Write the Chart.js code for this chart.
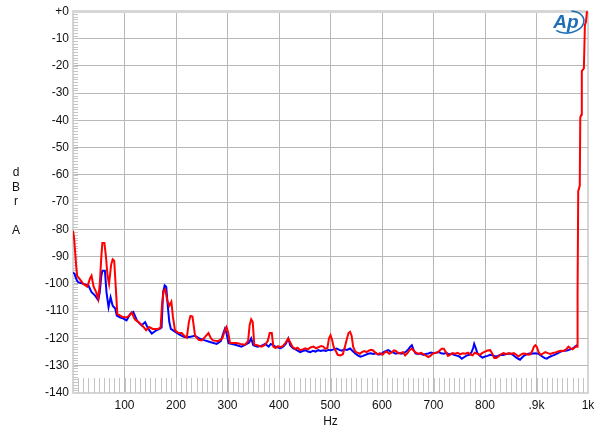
<!DOCTYPE html>
<html>
<head>
<meta charset="utf-8">
<script src="https://cdn.jsdelivr.net/npm/chart.js@4.4.1/dist/chart.umd.min.js"></script>
<style>
  html, body { margin: 0; padding: 0; background: #fff; }
  #wrap { width: 600px; height: 438px; position: relative; }
</style>
</head>
<body>
<div id="wrap"><canvas id="chart"></canvas></div>
<script>
// red trace (Hz / dBr)
const redHz = [0, 2, 4, 6, 8, 12, 20, 28, 33, 36, 40, 45, 49, 52, 55, 57, 61, 64, 67, 70,
  74, 77, 80, 83, 86, 95, 104, 110, 114, 120, 127, 133, 138, 142, 148, 155, 165, 170, 173, 176,
  179, 183, 187, 191, 194, 198, 205, 211, 216, 221, 225, 228, 232, 237, 244, 250, 256, 263, 268, 272,
  282, 290, 295, 298, 301, 305, 318, 325, 334, 340, 343, 346, 349, 352, 358, 366, 372, 378,
  382, 386, 389, 393, 398, 403, 408, 413, 418, 422, 426, 431, 436, 441, 446, 451, 456, 461, 467, 472,
  477, 482, 486, 490, 494, 497, 500, 503, 506, 510, 514, 519, 524, 528, 532, 535, 538, 541, 544, 548,
  552, 557, 561, 566, 570, 574, 579, 583, 587, 592, 596, 601, 605, 609, 614, 618, 623, 627, 632, 636,
  641, 645, 649, 653, 658, 662, 666, 671, 676, 681, 686, 690, 694, 698, 703, 708, 712, 716, 720, 724,
  728, 732, 737, 742, 747, 752, 757, 762, 767, 772, 776, 780, 785, 790, 795, 800, 805, 810, 814, 818,
  822, 826, 831, 836, 841, 846, 851, 856, 861, 865, 869, 874, 879, 884, 888, 892, 895, 898, 901, 904,
  908, 912, 917, 922, 927, 932, 937, 942, 947, 952, 957, 962, 966, 970, 973, 976, 979, 979, 980.5, 981,
  984, 985, 987, 988, 992, 994, 996, 998, 1000];
const redDb = [-80.5, -83, -88, -93, -97, -98, -100, -101, -98, -97, -101, -103, -105.5, -100, -90, -85, -85, -90, -97, -100,
  -93, -91, -91.5, -101, -111, -112, -112.3, -111.5, -110.5, -113, -114, -115, -116, -117, -115.8, -116.5, -116.5, -116, -107, -102.5,
  -102, -106, -108, -106.5, -112, -117, -118, -118, -119, -119.7, -114, -111.8, -112, -119, -120.5, -120.7, -119.5, -118, -120, -120.7,
  -121, -120, -117, -115.8, -117.5, -121.7, -121.7, -122, -122.3, -121, -115, -113, -114, -122.3, -122.5, -123, -122.5, -121,
  -118, -118, -123, -123.5, -122.8, -123.2, -122.7, -121.5, -120, -121.5, -123, -123.8, -123.4, -124.3, -124, -123.6, -124, -123.3, -123, -123.6,
  -123.2, -122.8, -123, -123.8, -123.5, -120, -118.8, -120.5, -123, -124.5, -126, -126.2, -125.8, -123, -120, -118, -117.6, -119, -123, -124.8,
  -125.2, -125.6, -125, -124.6, -125, -124.5, -124.2, -124.4, -125.2, -125.8, -125.4, -126, -125.2, -124.8, -125.6, -125.2, -124.4, -124.6, -125.5, -125.3,
  -125, -126.2, -125.5, -124.4, -123.7, -124.6, -125.2, -125.7, -125.3, -125.8, -126.4, -126.8, -126.4, -125.6, -125.3, -125.1, -124.4, -123.8, -123.8, -125,
  -126.4, -126, -125.4, -125.6, -125.3, -125.8, -125.4, -125.6, -125.2, -125.9, -126.2, -125.2, -125.6, -126, -125.3, -124.8, -124.4, -124.3, -125.5, -127.2,
  -127.2, -126.6, -125.8, -125.4, -125.7, -125.4, -125.6, -125.4, -126, -126.6, -126, -125.5, -125.6, -126, -125.8, -124.5, -123, -122.5, -123.2, -125,
  -126, -125.6, -125, -125.4, -125.7, -125.3, -125.1, -124.8, -124.5, -124.6, -124.1, -123, -123.6, -124, -123.5, -123, -123, -105, -104, -66,
  -64, -39, -38, -22, -21, -5, -4, 0, 0];

// blue trace (Hz / dBr)
const blueHz = [0, 3, 7, 10, 20, 30, 36, 43, 49, 52, 55, 57, 62, 65, 69, 73, 77, 82, 85, 92,
  98, 104, 111, 117, 121, 124, 133, 140, 146, 153, 162, 169, 172, 175, 178, 181, 184, 187, 190, 198,
  206, 216, 226, 237, 245, 256, 266, 279, 287, 292, 295, 298, 302, 315, 327, 335, 342, 346, 350, 358,
  366, 373, 380, 384, 388, 393, 398, 403, 408, 413, 418, 422, 427, 432, 437, 441, 446, 451, 456, 461,
  466, 471, 476, 481, 486, 491, 496, 501, 506, 512, 517, 522, 527, 532, 538, 543, 548, 553, 558, 563,
  568, 573, 578, 583, 588, 593, 598, 603, 608, 612, 617, 622, 627, 632, 637, 642, 647, 651, 655, 658,
  661, 665, 670, 675, 680, 685, 690, 695, 700, 705, 710, 715, 720, 725, 730, 735, 740, 745, 750, 755,
  760, 765, 770, 774, 777, 779, 782, 785, 790, 795, 800, 805, 810, 815, 820, 825, 830, 835, 840, 845,
  849, 854, 858, 863, 868, 872, 876, 881, 886, 891, 896, 900, 904, 908, 912, 916, 920, 925, 930, 935,
  940, 945, 950, 955, 959, 963, 968, 972, 975, 979];
const blueDb = [-95.8, -96.3, -98.5, -99.4, -100, -100.6, -103, -104.3, -106, -103, -97, -95.2, -95.2, -103, -108.5, -104.9, -108, -109, -111.6, -112.3,
  -112.7, -113.4, -111, -110.3, -112, -113.4, -115.2, -114, -116.4, -118.2, -117, -116.4, -116, -103, -100.5, -101, -108, -114, -116.5, -117.5,
  -118.5, -119.5, -119.5, -119, -120, -120.7, -121.3, -122, -121, -118, -116.4, -118, -121.7, -122.3, -123, -122.3, -121.5, -120, -122.5, -123,
  -122.7, -122, -123, -122, -122.4, -123, -123.3, -123.6, -123, -122, -120, -122.6, -123.6, -124, -124.6, -125, -124.6, -124.3, -124.8, -125,
  -124.5, -124.8, -124.3, -124.6, -124.3, -124.6, -124.2, -124.3, -124, -123.7, -124.2, -124.5, -124, -124.2, -123.7, -124.6, -125.5, -126.2, -126.7, -126.4,
  -126, -125.6, -125.4, -125.7, -125.4, -125.9, -125.8, -125, -124.6, -124.3, -124.8, -125.2, -125.6, -125.3, -125.6, -125.4, -124.8, -124, -123, -122.5,
  -124, -125.5, -125.7, -125.5, -126, -125.7, -125.5, -125.2, -125.4, -125.2, -125, -125.4, -125.6, -125.3, -125.8, -125.6, -126, -126.3, -126.6, -127.4,
  -126.8, -126.2, -126, -125, -123.5, -122, -123.5, -125.3, -126.3, -127, -126.6, -126.4, -126, -126.2, -126.6, -126.4, -126, -126.1, -125.8, -125.6,
  -125.5, -126, -126.6, -127.3, -127.8, -127, -126.3, -125.8, -125.5, -125.6, -125.4, -125.5, -125.6, -126.2, -126.7, -127.2, -127.4, -126.8, -126.4, -126,
  -125.6, -125, -124.6, -124.5, -124.4, -124.2, -123.8, -123.5, -123, -122.4];

// tick labels on the frequency axis
const xTickLabels = { 100: '100', 200: '200', 300: '300', 400: '400', 500: '500',
  600: '600', 700: '700', 800: '800', 900: '.9k', 1000: '1k' };

const toPoints = (xs, ys) => xs.map((x, i) => ({ x: x, y: ys[i] }));

const FONT = "'Liberation Sans', Arial, sans-serif";
Chart.defaults.font.family = FONT;
Chart.defaults.font.size = 12;
Chart.defaults.color = '#111';

// minor ticks, side label and the logo
const decorations = {
  id: 'decorations',
  beforeDatasetsDraw(chart) {
    const { ctx, chartArea: a, scales: { x, y } } = chart;
    ctx.save();
    ctx.strokeStyle = '#c4c4c4';
    ctx.lineWidth = 1;
    ctx.beginPath();
    for (let f = 10; f < 1000; f += 10) {
      const px = Math.round(x.getPixelForValue(f)) + 0.5;
      ctx.moveTo(px, a.bottom);
      ctx.lineTo(px, a.bottom - 15);
    }
    for (let d = -139; d < 0; d++) {
      const py = Math.round(y.getPixelForValue(d)) + 0.5;
      ctx.moveTo(a.left, py);
      ctx.lineTo(a.left + 5, py);
    }
    ctx.stroke();
    ctx.restore();
  },
  afterDraw(chart) {
    const { ctx } = chart;
    ctx.save();
    ctx.fillStyle = '#111';
    ctx.font = '12px ' + FONT;
    ctx.textAlign = 'center';
    ctx.textBaseline = 'middle';
    ['d', 'B', 'r', '', 'A'].forEach((ch, i) => ctx.fillText(ch, 16, 173 + i * 14.5));

    // Ap logo
    ctx.fillStyle = '#1f6fb6';
    ctx.strokeStyle = '#1f6fb6';
    ctx.font = 'italic bold 19px ' + FONT;
    ctx.fillText('Ap', 566, 23);
    ctx.lineWidth = 1.6;
    ctx.beginPath();
    ctx.ellipse(568, 22, 16, 11, -0.15, -1.25, 2.5);
    ctx.stroke();
    ctx.restore();
  }
};

new Chart(document.getElementById('chart'), {
  type: 'line',
  plugins: [decorations],
  data: {
    datasets: [
      { data: toPoints(redHz, redDb), borderColor: '#ff0000', borderWidth: 2 },
      { data: toPoints(blueHz, blueDb), borderColor: '#0000ff', borderWidth: 2 }
    ]
  },
  options: {
    responsive: true,
    maintainAspectRatio: false,
    animation: false,
    parsing: false,
    elements: { point: { radius: 0 }, line: { tension: 0, fill: false } },
    layout: { padding: { left: 0, right: 12, top: 8, bottom: 0 } },
    plugins: { legend: { display: false }, tooltip: { enabled: false } },
    scales: {
      x: {
        type: 'linear',
        min: 0, max: 1000,
        afterFit: (s) => { s.height = 45; },
        ticks: {
          stepSize: 100, padding: 5, maxRotation: 0,
          callback: (v) => xTickLabels[v] || ''
        },
        grid: {
          drawTicks: false,
          color: (c) => (c.tick && (c.tick.value === 0 || c.tick.value === 1000)) ? '#d6d6d6' : '#b8b8b8',
          lineWidth: (c) => (c.tick && (c.tick.value === 0 || c.tick.value === 1000)) ? 2 : 1
        },
        border: { color: '#d6d6d6', width: 2 },
        title: { display: true, text: 'Hz', padding: { top: 0, bottom: 9 }, font: { size: 12 } }
      },
      y: {
        min: -140, max: 0,
        afterFit: (s) => { s.width = 73; },
        ticks: {
          stepSize: 10, padding: 4,
          callback: (v) => v === 0 ? '+0' : String(v)
        },
        grid: {
          drawTicks: false,
          color: (c) => (c.tick && (c.tick.value === 0 || c.tick.value === -140)) ? '#d6d6d6' : '#b8b8b8',
          lineWidth: (c) => (c.tick && c.tick.value === 0) ? 3 : 1
        },
        border: { color: '#d6d6d6', width: 2 }
      }
    }
  }
});
</script>
</body>
</html>
